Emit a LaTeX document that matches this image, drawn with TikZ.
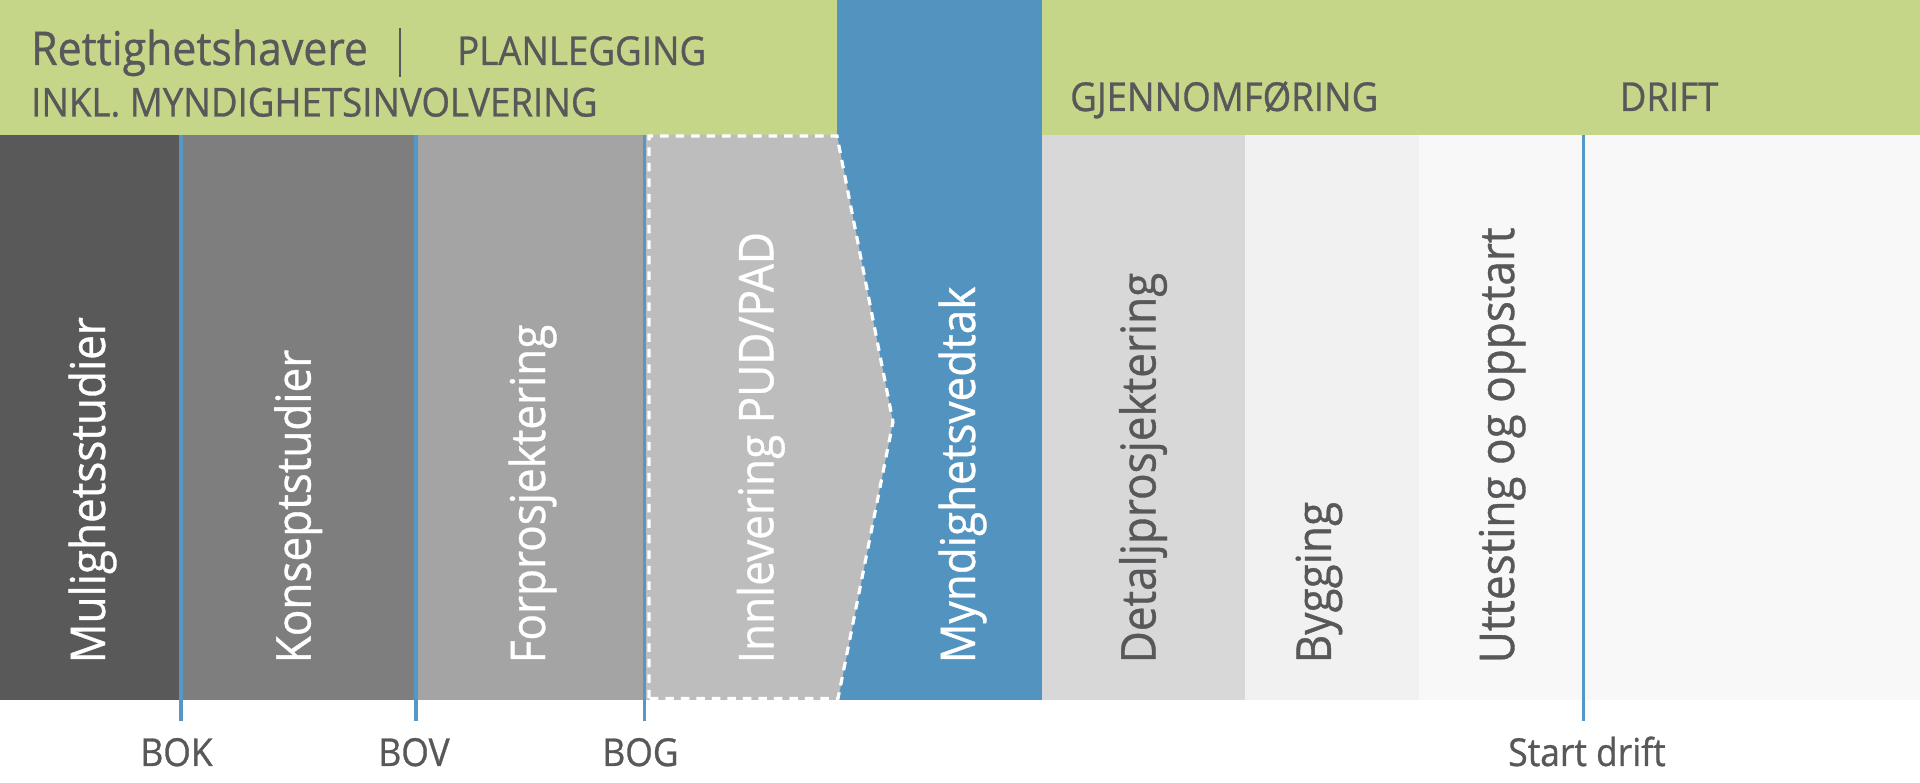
\documentclass[tikz,border=0pt]{standalone}
\usepackage{fontspec}
\setmainfont{Open Sans}[FakeStretch=0.92,FakeBold=0.8]
\definecolor{band}{RGB}{197,214,136}
\definecolor{vblue}{RGB}{82,147,192}
\definecolor{lblue}{RGB}{86,151,198}
\definecolor{txt}{RGB}{88,88,90}
\definecolor{gA}{RGB}{89,89,89}
\definecolor{gB}{RGB}{126,126,126}
\definecolor{gC}{RGB}{164,164,164}
\definecolor{gD}{RGB}{189,189,189}
\definecolor{gE}{RGB}{216,216,216}
\definecolor{gF}{RGB}{241,241,241}
\definecolor{gG}{RGB}{248,248,248}
\begin{document}
\begin{tikzpicture}[x=1pt,y=1pt,
  vtext/.style={rotate=90,anchor=base west,inner sep=0pt,font=\fontsize{47.9}{50}\selectfont},
  headbig/.style={anchor=base west,inner sep=0pt,text=txt,font=\fontsize{46.5}{48}\selectfont},
  headcap/.style={anchor=base west,inner sep=0pt,text=txt,font=\fontsize{39.8}{42}\selectfont},
  milestone/.style={anchor=base,inner sep=0pt,text=txt,font=\fontsize{38.5}{42}\selectfont},
  mline/.style={draw=lblue,line width=3.2pt},
  dashedge/.style={draw=white,line width=3.2pt,dash pattern=on 8.5pt off 7pt}]
\useasboundingbox (0,0) rectangle (1920,783);
\fill[white] (0,0) rectangle (1920,783);
% header bands
\fill[band] (0,648) rectangle (837,783);
\fill[band] (1042,648) rectangle (1920,783);
% strips
\fill[gA] (0,83) rectangle (181,648);
\fill[gB] (181,83) rectangle (416,648);
\fill[gC] (416,83) rectangle (645,648);
\fill[gE] (1042,83) rectangle (1245,648);
\fill[gF] (1245,83) rectangle (1419,648);
\fill[gG] (1419,83) rectangle (1920,648);
% authority decision column
\fill[vblue] (837,83) rectangle (1042,783);
% submission chevron
\fill[gD] (645,83) -- (645,648) -- (837,648) -- (893,361) -- (838,83) -- cycle;
\draw[dashedge] (649,84.5) -- (649,647) -- (837,647) -- (893,361) -- (838,84.5) -- cycle;
% milestone lines
\coordinate (bokT) at (181,648); \coordinate (bokB) at (181,62);
\coordinate (bovT) at (416,648); \coordinate (bovB) at (416,62);
\coordinate (bogT) at (644.5,648); \coordinate (bogB) at (644.5,62);
\coordinate (sdT) at (1583.5,648); \coordinate (sdB) at (1583.5,62);
\draw[mline] (bokT) -- (bokB);
\draw[mline] (bovT) -- (bovB);
\draw[mline] (bogT) -- (bogB);
\draw[mline] (sdT) -- (sdB);
% header texts
\node[headbig] (rett) at (31,718) {Rettighetshavere};
\draw[txt,line width=2.4pt] (400,755) -- (400,706);
\node[headcap] (plan) at (457,718) {PLANLEGGING};
\node[headcap] (inkl) at (31,666.5) {INKL. MYNDIGHETSINVOLVERING};
\node[headcap] (gjen) at (1070,672) {GJENNOMFØRING};
\node[headcap] (drift) at (1619.5,672) {DRIFT};
% vertical phase texts
\node[vtext,text=white] (mul) at (105,119.5) {Mulighetsstudier};
\node[vtext,text=white] (kon) at (310.6,119.5) {Konseptstudier};
\node[vtext,text=white] (for) at (545,119.5) {Forprosjektering};
\node[vtext,text=white] (inn) at (773.3,119.5) {Innlevering PUD/PAD};
\node[vtext,text=white] (myn) at (975,119.5) {Myndighetsvedtak};
\node[vtext,text=txt] (det) at (1155.5,119.5) {Detaljprosjektering};
\node[vtext,text=txt] (byg) at (1330.8,119.5) {Bygging};
\node[vtext,text=txt] (utt) at (1514,119.5) {Uttesting og oppstart};
% milestone labels
\node[milestone] (bok) at (176.5,17) {BOK};
\node[milestone] (bov) at (414,17) {BOV};
\node[milestone] (bog) at (640.5,17) {BOG};
\node[milestone] (sd) at (1587,17) {Start drift};
\end{tikzpicture}
\end{document}
